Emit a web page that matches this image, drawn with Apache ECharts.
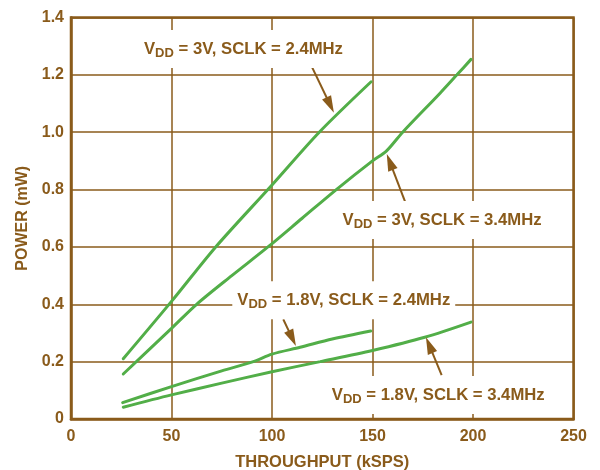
<!DOCTYPE html>
<html><head><meta charset="utf-8">
<script src="https://cdn.jsdelivr.net/npm/echarts@6/dist/echarts.min.js"></script>
<style>html,body{margin:0;padding:0;background:#fff}#c{width:600px;height:470px}</style>
</head><body><div id="c"></div>
<script>
// ---- data ----
const xMin = 0, xMax = 250, xStep = 50;
const yMin = 0, yMax = 1.4, yStep = 0.2;
const xTitle = 'THROUGHPUT (kSPS)';
const yTitle = 'POWER (mW)';

// VDD = 3V, SCLK = 2.4MHz
const a_x = [26, 50, 72, 100, 123.5, 149.3];
const a_y = [0.21, 0.41, 0.60, 0.816, 1.00, 1.176];
// VDD = 3V, SCLK = 3.4MHz
const b_x = [26, 50, 62.5, 80, 98, 115, 132, 150, 157, 165, 183.6, 192, 199];
const b_y = [0.157, 0.316, 0.40, 0.50, 0.60, 0.70, 0.80, 0.90, 0.935, 1.0, 1.136, 1.2, 1.254];
// VDD = 1.8V, SCLK = 2.4MHz
const c_x = [25.7, 50, 75, 90.7, 100, 114, 130, 149.1];
const c_y = [0.057, 0.113, 0.168, 0.20, 0.226, 0.25, 0.279, 0.307];
// VDD = 1.8V, SCLK = 3.4MHz
const d_x = [26, 50, 75, 100, 124, 150, 176, 199];
const d_y = [0.041, 0.084, 0.125, 0.165, 0.20, 0.239, 0.285, 0.338];

const seriesVdd = ['3V', '3V', '1.8V', '1.8V'];
const seriesSclk = ['2.4MHz', '3.4MHz', '2.4MHz', '3.4MHz'];
// annotation label anchor (data coords)
const labelX = [85.8, 184.6, 135.7, 182.7];
const labelY = [1.29, 0.694, 0.414, 0.084];
// arrow tail / tip (data coords)
const arrowFromX = [118.6, 166.2, 105.6, 184.4];
const arrowFromY = [1.246, 0.758, 0.348, 0.153];
const arrowToX = [130.8, 157.1, 111.9, 176.6];
const arrowToY = [1.068, 0.924, 0.2545, 0.285];

// ---- style ----
const brown = '#8A5B1B';
const green = '#52AE48';
const font = 'Liberation Sans, Arial, Helvetica, sans-serif';
const headW = 10, headH = 17;

const xs = [a_x, b_x, c_x, d_x];
const ys = [a_y, b_y, c_y, d_y];

function buildSeries(arrowEnds) {
  return xs.map((xx, i) => ({
    type: 'line',
    name: 'VDD = ' + seriesVdd[i] + ', SCLK = ' + seriesSclk[i],
    data: xx.map((x, j) => [x, ys[i][j]]),
    showSymbol: false,
    smooth: 0.3,
    lineStyle: { color: green, width: 3, cap: 'round' },
    itemStyle: { color: green },
    z: 3,
    markPoint: {
      symbol: 'circle',
      symbolSize: 1,
      itemStyle: { color: 'rgba(0,0,0,0)' },
      silent: true,
      label: {
        show: true,
        position: 'inside',
        backgroundColor: '#fff',
        padding: [8, 5],
        formatter: '{v|V}{s|DD}{v| = ' + seriesVdd[i] + ', SCLK = ' + seriesSclk[i] + '}',
        rich: {
          v: { fontFamily: font, fontWeight: 'bold', fontSize: 16.7, color: brown, lineHeight: 22, verticalAlign: 'middle' },
          s: { fontFamily: font, fontWeight: 'bold', fontSize: 13, color: brown, lineHeight: 12, verticalAlign: 'bottom' }
        }
      },
      data: [{ coord: [labelX[i], labelY[i]] }]
    },
    markLine: {
      silent: true,
      symbol: ['none', 'triangle'],
      lineStyle: { color: brown, width: 2, type: 'solid' },
      itemStyle: { color: brown },
      label: { show: false },
      data: [[
        { coord: [arrowFromX[i], arrowFromY[i]], symbol: 'none', symbolSize: 1 },
        { coord: arrowEnds[i], symbol: 'triangle', symbolSize: [headW, headH] }
      ]]
    }
  }));
}

const chart = echarts.init(document.getElementById('c'), null, { renderer: 'canvas' });
const baseEnds = arrowToX.map((x, i) => [x, arrowToY[i]]);
chart.setOption({
  animation: false,
  backgroundColor: '#fff',
  grid: { left: 71, right: 26.5, top: 17.5, bottom: 51, containLabel: false, outerBoundsMode: 'none',
    show: true, borderColor: brown, borderWidth: 2.5, backgroundColor: 'transparent' },
  xAxis: {
    type: 'value', min: xMin, max: xMax, interval: xStep,
    name: xTitle, nameLocation: 'middle', nameGap: 35,
    nameTextStyle: { fontFamily: font, fontWeight: 'bold', fontSize: 16.5, color: brown },
    axisLine: { show: true, lineStyle: { color: brown, width: 2.5 } },
    axisTick: { show: false },
    axisLabel: { fontFamily: font, fontWeight: 'bold', fontSize: 16, color: brown, margin: 10 },
    splitLine: { show: true, lineStyle: { color: brown, width: 1.5 } }
  },
  yAxis: {
    type: 'value', min: yMin, max: yMax, interval: yStep,
    name: yTitle, nameLocation: 'middle', nameGap: 40, nameRotate: 90,
    nameTextStyle: { fontFamily: font, fontWeight: 'bold', fontSize: 16, color: brown },
    axisLine: { show: true, lineStyle: { color: brown, width: 2.5 } },
    axisTick: { show: false },
    axisLabel: { fontFamily: font, fontWeight: 'bold', fontSize: 16, color: brown, margin: 7,
      formatter: v => (v === 0 ? '0' : v.toFixed(1)) },
    splitLine: { show: true, lineStyle: { color: brown, width: 1.5 } }
  },
  series: buildSeries(baseEnds)
});

// pull each arrow end back by half the head length so the tip lands on the target point
const adjEnds = baseEnds.map((tip, i) => {
  const p1 = chart.convertToPixel({ gridIndex: 0 }, [arrowFromX[i], arrowFromY[i]]);
  const p2 = chart.convertToPixel({ gridIndex: 0 }, tip);
  const dx = p2[0] - p1[0], dy = p2[1] - p1[1];
  const len = Math.sqrt(dx * dx + dy * dy);
  const q = [p2[0] - dx / len * headH / 2, p2[1] - dy / len * headH / 2];
  return chart.convertFromPixel({ gridIndex: 0 }, q);
});
chart.setOption({ series: buildSeries(adjEnds) });
</script>
</body></html>
